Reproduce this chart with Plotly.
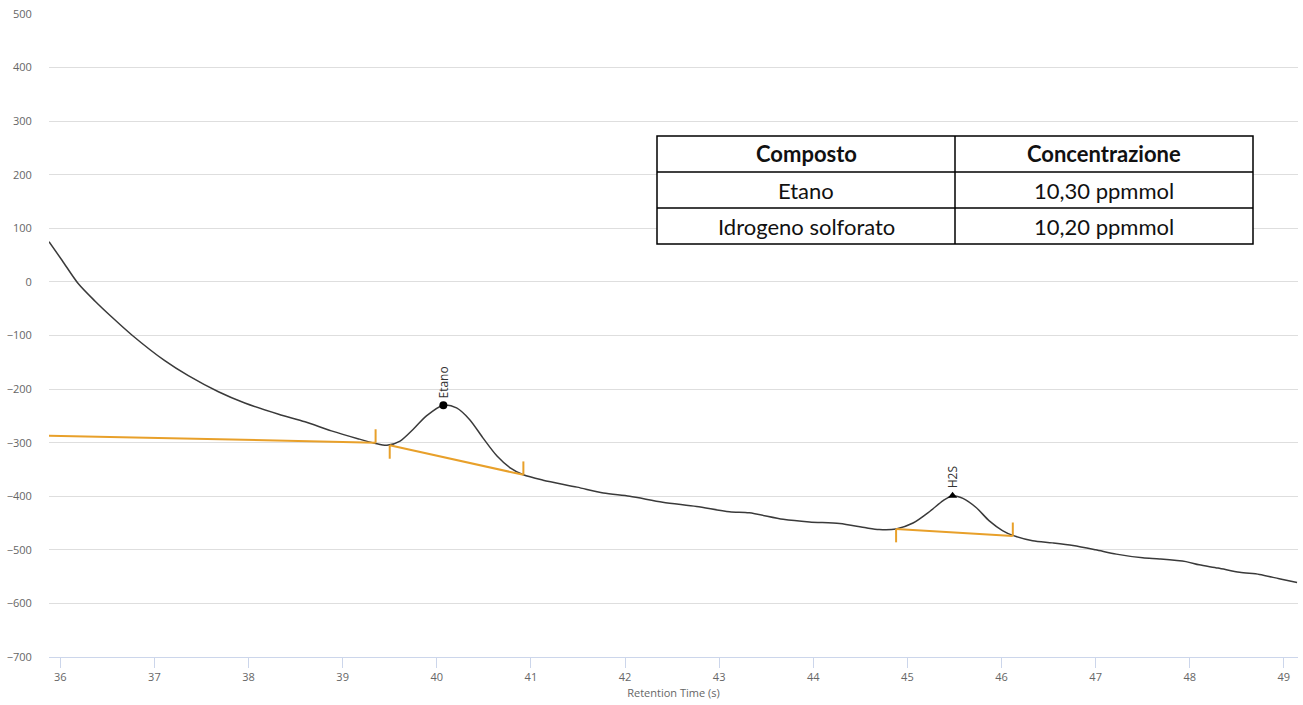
import plotly.graph_objects as go

# Chromatogram trace: retention time (s) vs detector signal
rt = [35.88, 36.02, 36.19, 36.37, 36.55, 36.76, 37.11, 37.36, 37.68, 37.96,
      38.32, 38.60, 38.88, 39.17, 39.34, 39.47, 39.61, 39.75, 39.89, 40.07,
      40.21, 40.35, 40.49, 40.64, 40.78, 40.92, 41.13, 41.49, 41.77, 42.05,
      42.40, 42.76, 43.11, 43.32, 43.68, 43.96, 44.28, 44.56, 44.70, 44.88,
      45.06, 45.24, 45.38, 45.48, 45.59, 45.73, 45.87, 46.01, 46.12, 46.33,
      46.54, 46.76, 47.00, 47.22, 47.50, 47.68, 47.96, 48.10, 48.30, 48.53,
      48.74, 48.95, 49.14]
signal = [75, 40, -3, -36, -66, -99, -147, -175, -205, -226,
          -247, -261, -278, -293, -301, -305, -297, -275, -250, -230,
          -235, -257, -291, -325, -347, -360, -370, -383, -394, -400,
          -411, -419, -429, -431, -443, -448, -451, -459, -462, -461,
          -450, -428, -408, -399, -404, -421, -446, -464, -473, -483,
          -487, -492, -500, -508, -515, -517, -522, -528, -534, -542,
          -546, -554, -561]

# Integration baselines: (start rt, start value, end rt, end value)
base_x0 = [35.88, 39.50, 44.88]
base_y0 = [-287, -305, -461]
base_x1 = [39.35, 40.92, 46.12]
base_y1 = [-300, -360, -474]

# Identified peaks
peak_names = ["Etano", "H2S"]
peak_rt = [40.07, 45.48]
peak_val = [-230, -399]
peak_symbols = ["circle", "triangle-up"]

# Results table
table_header = ["Composto", "Concentrazione"]
compounds = ["Etano", "Idrogeno solforato"]
concentrations = ["10,30 ppmmol", "10,20 ppmmol"]

ORANGE = "#E8A02A"
LINE = "#3a3a3a"
GRID = "#dedede"
AXIS = "#ccd6eb"
LABEL = "#666666"
TICK_LEN = 25

W, H = 1303, 705
L, R, T, B = 49, 5, 14, 48
PW, PH = W - L - R, H - T - B


def px_x(p):
    return (p - L) / PW


def px_y(p):
    return (H - B - p) / PH


fig = go.Figure()

fig.add_trace(go.Scatter(
    x=rt, y=signal, mode="lines",
    line=dict(color=LINE, width=1.5, shape="spline", smoothing=0.8),
    hoverinfo="skip", showlegend=False,
))

# Baseline segments
bx, by = [], []
for x0, y0, x1, y1 in zip(base_x0, base_y0, base_x1, base_y1):
    bx += [x0, x1, None]
    by += [y0, y1, None]
fig.add_trace(go.Scatter(x=bx, y=by, mode="lines",
                         line=dict(color=ORANGE, width=2),
                         hoverinfo="skip", showlegend=False))

# Start (down) and end (up) tick marks of the baselines
tx, ty = [], []
tx += [base_x1[0], base_x1[0], None]; ty += [base_y1[0], base_y1[0] + TICK_LEN, None]
tx += [base_x0[1], base_x0[1], None]; ty += [base_y0[1], base_y0[1] - TICK_LEN, None]
tx += [base_x1[1], base_x1[1], None]; ty += [base_y1[1], base_y1[1] + TICK_LEN, None]
tx += [base_x0[2], base_x0[2], None]; ty += [base_y0[2], base_y0[2] - TICK_LEN, None]
tx += [base_x1[2], base_x1[2], None]; ty += [base_y1[2], base_y1[2] + TICK_LEN, None]
fig.add_trace(go.Scatter(x=tx, y=ty, mode="lines",
                         line=dict(color=ORANGE, width=2),
                         hoverinfo="skip", showlegend=False))

fig.add_trace(go.Scatter(
    x=peak_rt, y=peak_val, mode="markers",
    marker=dict(color="black", size=8, symbol=peak_symbols),
    hoverinfo="skip", showlegend=False,
))

annotations = []
for name, x, y in zip(peak_names, peak_rt, peak_val):
    annotations.append(dict(
        x=x, y=y, xref="x", yref="y", text=name, textangle=-90,
        showarrow=False, xanchor="center", yanchor="bottom", yshift=5,
        font=dict(family="Open Sans, sans-serif", size=12, color="#333333"),
    ))

# Results table drawn on top of the plot
tl, tr, tc = 657, 1253, 955
rows = [136, 172, 208, 244]
shapes = [dict(type="rect", xref="paper", yref="paper",
               x0=px_x(tl), x1=px_x(tr), y0=px_y(rows[-1]), y1=px_y(rows[0]),
               fillcolor="white", line=dict(color="black", width=1.5), layer="above")]
for r in rows[1:-1]:
    shapes.append(dict(type="line", xref="paper", yref="paper",
                       x0=px_x(tl), x1=px_x(tr), y0=px_y(r), y1=px_y(r),
                       line=dict(color="black", width=1.5), layer="above"))
shapes.append(dict(type="line", xref="paper", yref="paper",
                   x0=px_x(tc), x1=px_x(tc), y0=px_y(rows[-1]), y1=px_y(rows[0]),
                   line=dict(color="black", width=1.5), layer="above"))

cells = [table_header] + [list(p) for p in zip(compounds, concentrations)]
for ri, row in enumerate(cells):
    yc = (rows[ri] + rows[ri + 1]) / 2
    for ci, txt in enumerate(row):
        xc = (tl + tc) / 2 if ci == 0 else (tc + tr) / 2
        annotations.append(dict(
            x=px_x(xc), y=px_y(yc), xref="paper", yref="paper",
            text=f"<b>{txt}</b>" if ri == 0 else txt, showarrow=False,
            xanchor="center", yanchor="middle",
            font=dict(family="Lato, sans-serif", size=22, color="#111111"),
        ))

fig.update_layout(
    width=W, height=H,
    margin=dict(l=L, r=R, t=T, b=B),
    paper_bgcolor="white", plot_bgcolor="white",
    showlegend=False,
    shapes=shapes, annotations=annotations,
    font=dict(family="Open Sans, sans-serif"),
    xaxis=dict(
        range=[35.88, 49.15], dtick=1, tick0=36,
        showgrid=False, zeroline=False,
        showline=True, linecolor=AXIS, linewidth=1,
        ticks="outside", ticklen=10, tickcolor=AXIS,
        tickfont=dict(size=11, color=LABEL),
        title=dict(text="Retention Time (s)", font=dict(size=11, color=LABEL), standoff=6),
    ),
    yaxis=dict(
        range=[-700, 500], dtick=100, tick0=0,
        showgrid=True, gridcolor=GRID, gridwidth=1,
        zeroline=False, showline=False,
        ticks="outside", ticklen=14, tickcolor="rgba(0,0,0,0)",
        tickfont=dict(size=11, color=LABEL),
    ),
)

fig.write_html("out.html")
